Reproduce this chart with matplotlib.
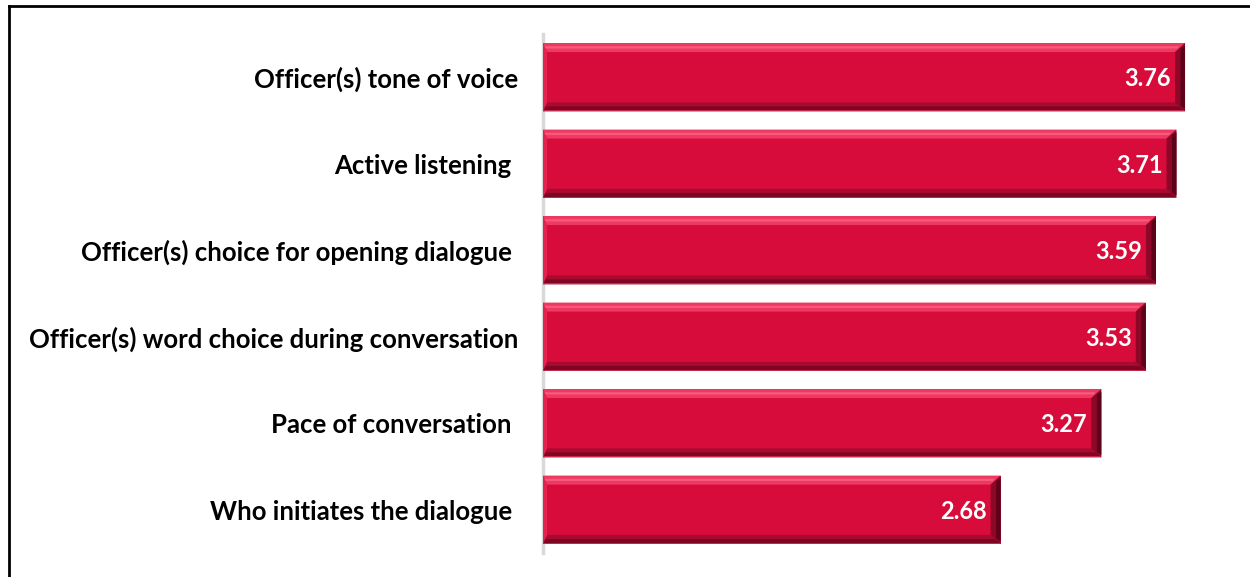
import matplotlib
matplotlib.use("Agg")
import matplotlib.pyplot as plt
from matplotlib.patches import Polygon
from matplotlib.lines import Line2D
import numpy as np

categories = [
    "Officer(s) tone of voice",
    "Active listening ",
    "Officer(s) choice for opening dialogue ",
    "Officer(s) word choice during conversation",
    "Pace of conversation ",
    "Who initiates the dialogue ",
]
values = [3.76, 3.71, 3.59, 3.53, 3.27, 2.68]
value_labels = ["3.76", "3.71", "3.59", "3.53", "3.27", "2.68"]

W, H = 1250, 577
fig = plt.figure(figsize=(W / 100, H / 100), dpi=100)
ax = fig.add_axes([543 / W, 1 - 553 / H, (1226 - 543) / W, (553 - 34) / H])

ypos = np.arange(len(values))
bar_h = 0.79
main = "#D70C3A"
bars = ax.barh(ypos, values, height=bar_h, color=main, edgecolor="none", zorder=2)
ax.set_xlim(0, 4.0)
ax.set_ylim(len(values) - 0.5, -0.5)

# bevel dimensions in data units from pixel sizes
px_x = (4.0 - 0) / (1226 - 543)
px_y = 1.0 / ((553 - 34) / len(values))
bx = 10 * px_x
by = 9 * px_y
for yc, v in zip(ypos, values):
    top = yc - bar_h / 2
    bot = yc + bar_h / 2
    # top bevel (light)
    ax.add_patch(Polygon([(0, top), (v, top), (v - bx, top + by), (bx * 0.4, top + by)],
                         closed=True, facecolor="#EE3A62", edgecolor="none", zorder=3))
    ax.add_patch(Polygon([(0, top + by * 0.35), (v - bx * 0.6, top + by * 0.35), (v - bx * 0.75, top + by * 0.6), (bx * 0.3, top + by * 0.6)],
                         closed=True, facecolor="#F8597C", edgecolor="none", zorder=3.1))
    # bottom bevel (dark)
    ax.add_patch(Polygon([(0, bot), (v, bot), (v - bx, bot - by), (bx * 0.4, bot - by)],
                         closed=True, facecolor="#A80A30", edgecolor="none", zorder=3))
    ax.add_patch(Polygon([(0, bot - by * 0.1), (v - bx * 0.1, bot - by * 0.1), (v - bx * 0.55, bot - by * 0.55), (bx * 0.2, bot - by * 0.55)],
                         closed=True, facecolor="#7E0623", edgecolor="none", zorder=3.1))
    ax.add_patch(Polygon([(0, bot), (v, bot), (v, bot - by * 0.12), (0, bot - by * 0.12)],
                         closed=True, facecolor="#C2294D", edgecolor="none", zorder=3.2))
    # right bevel (darkest)
    ax.add_patch(Polygon([(v, top), (v, bot), (v - bx, bot - by), (v - bx, top + by)],
                         closed=True, facecolor="#8E0729", edgecolor="none", zorder=3.3))
    ax.add_patch(Polygon([(v, top + by * 0.3), (v, bot - by * 0.3), (v - bx * 0.45, bot - by * 0.6), (v - bx * 0.45, top + by * 0.6)],
                         closed=True, facecolor="#5C0319", edgecolor="none", zorder=3.4))
    # left bevel (slightly light)
    ax.add_patch(Polygon([(0, top), (0, bot), (bx * 0.4, bot - by), (bx * 0.4, top + by)],
                         closed=True, facecolor="#E3234E", edgecolor="none", zorder=3.3))

for yc, v, lab in zip(ypos, values, value_labels):
    ax.text(v - 14 * px_x, yc + 0.02, lab, ha="right", va="center", color="white",
            fontsize=17, fontweight="bold", family="Lato", zorder=5)

ax.set_yticks(ypos)
ax.set_yticklabels(categories, fontsize=18.5, fontweight="bold", family="Lato", color="black")
ax.tick_params(axis="y", length=0, pad=18)
ax.set_xticks([])
for s in ["top", "right", "bottom"]:
    ax.spines[s].set_visible(False)
ax.spines["left"].set_color("#D9D9D9")
ax.spines["left"].set_linewidth(2.5)
ax.spines["left"].set_zorder(1)

# figure frame (top and left only)
fig.add_artist(Line2D([8.5 / W, 8.5 / W], [0, 1 - 6 / H], transform=fig.transFigure, color="black", lw=2))
fig.add_artist(Line2D([8.5 / W, 1], [1 - 6 / H, 1 - 6 / H], transform=fig.transFigure, color="black", lw=2))

fig.savefig("out.png", dpi=100)
